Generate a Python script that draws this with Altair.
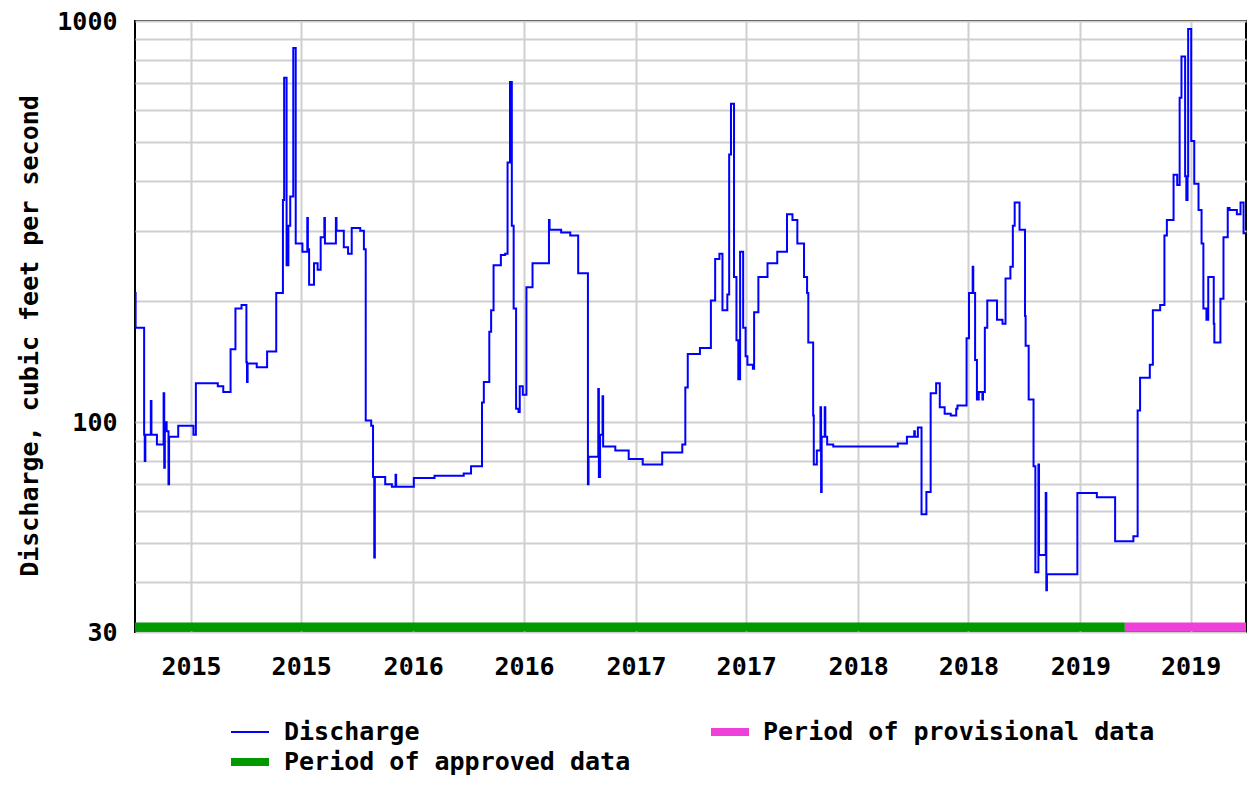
import altair as alt
import pandas as pd

# ---------------- data ----------------
START = "2014-10-01"  # start of water year 2015

# day offsets from START where the daily discharge steps to a new value
wy2015_day = [0, 1, 15, 16, 17, 26, 27, 36, 47, 48, 49, 52, 55, 56, 71, 96, 100, 136, 145, 157,
              165, 175, 183, 184, 185, 200, 217, 232, 243, 245, 249, 252, 255, 260, 264, 275, 283,
              284, 286, 294, 300, 305, 311, 312, 330, 331, 343, 350, 356]
wy2015_cfs = [210, 172, 93, 80, 93, 113, 93, 88, 118, 77, 100, 95, 70, 92, 98, 93, 125, 123, 119, 152,
              192, 196, 141, 126, 140, 137, 150, 210, 358, 722, 246, 309, 365, 857, 279, 266, 323,
              270, 220, 249, 240, 289, 323, 279, 323, 300, 273, 263, 305]

wy2016_day = [370, 376, 379, 388, 391, 393, 394, 411, 422, 428, 429, 458, 492, 540, 552, 570, 573,
              582, 585, 589, 601, 608, 612, 616, 619, 622, 626, 630, 632, 637, 643, 653, 680, 681,
              700, 715]
wy2016_cfs = [300, 270, 101, 98, 73, 46, 73, 70, 69, 74, 69, 72.6, 73.5, 74.5, 77.7, 112, 126,
              168, 190, 246, 261, 263, 444, 705, 309, 192, 108, 106, 123, 117, 217, 249, 319, 302,
              297, 292]

wy2017_day = [728, 744, 745, 761, 762, 764, 768, 769, 789, 811, 834, 866, 899, 904, 908, 928, 946,
              953, 960, 965, 973, 976, 979, 984, 988, 991, 994, 999, 1003, 1006, 1015, 1017, 1024,
              1039, 1055, 1071, 1080, 1088]
wy2017_cfs = [235, 70, 82, 121, 73, 93, 116, 87, 85, 81, 78.5, 84, 88, 122, 148, 153, 201,
              255, 263, 190, 208, 465, 622, 230, 160, 128, 266, 172, 146, 139, 136, 188, 230,
              249, 266, 330, 319, 279]

wy2018_day = [1099, 1104, 1106, 1114, 1115, 1120, 1126, 1127, 1128, 1133, 1134, 1137, 1147, 1253,
              1268, 1280, 1281, 1286, 1292, 1300, 1307, 1316, 1322, 1330, 1340, 1349, 1351, 1366,
              1370, 1376, 1377, 1380, 1383, 1386, 1392, 1393, 1396, 1400, 1416, 1425, 1430, 1438,
              1442, 1445, 1453]
wy2018_cfs = [230, 210, 158, 104, 78.5, 85, 109, 67, 92, 109, 92, 88, 87, 88.5,
              92, 95, 92, 97, 59, 67, 118, 125, 109, 105, 104, 108, 110, 162,
              210, 244, 210, 143, 114, 119, 114, 119, 172, 201, 180, 176, 228, 244,
              309, 353, 302]

wy2019_day = [1462, 1463, 1468, 1476, 1479, 1484, 1485, 1496, 1497, 1498, 1548, 1580, 1610, 1640,
              1647, 1651, 1667, 1672, 1684, 1691, 1695, 1706, 1712, 1716, 1719, 1725, 1727, 1729,
              1730, 1735, 1740, 1747, 1752, 1755, 1760, 1763, 1772, 1773, 1783, 1788, 1795, 1798,
              1810, 1816, 1821, 1825]
wy2019_cfs = [184, 155, 114, 77.7, 42.3, 78.5, 46.7, 66.6, 38.1, 41.8, 66.6, 65, 50.5, 52,
              107, 129, 139, 190, 196, 292, 319, 414, 390, 644, 816, 410, 358, 410,
              955, 502, 393, 338, 279, 192, 180, 230, 176, 158, 203, 289, 342, 338,
              330, 353, 296, 296]

day_offset = wy2015_day + wy2016_day + wy2017_day + wy2018_day + wy2019_day
discharge_cfs = wy2015_cfs + wy2016_cfs + wy2017_cfs + wy2018_cfs + wy2019_cfs

y_grid_values = [30, 40, 50, 60, 70, 80, 90, 100, 200, 300, 400, 500, 600, 700, 800, 900, 1000]
y_label_values = [30, 100, 1000]
x_tick_dates = ["2015-01-01", "2015-07-01", "2016-01-01", "2016-07-01", "2017-01-01",
                "2017-07-01", "2018-01-01", "2018-07-01", "2019-01-01", "2019-07-01"]

period_names = ["Period of approved data", "Period of provisional data"]
period_start = ["2014-10-01", "2019-03-15"]
period_end = ["2019-03-15", "2019-09-30"]
period_colors = ["#009A00", "#F040DA"]

LINE_BLUE = "#0000FF"
FONT = "DejaVu Sans Mono"
FS = 25

# ---------------- tables ----------------
flow = pd.DataFrame({
    "date": pd.Timestamp(START) + pd.to_timedelta(day_offset, unit="D"),
    "discharge": discharge_cfs,
})
periods = pd.DataFrame({
    "period": period_names,
    "start": pd.to_datetime(period_start),
    "end": pd.to_datetime(period_end),
})

x_scale = alt.Scale(domain=[alt.DateTime(year=2014, month=10, date=1),
                            alt.DateTime(year=2019, month=9, date=30)])
y_scale = alt.Scale(type="log", domain=[30, 1000], nice=False)

label_list = ",".join(str(v) for v in y_label_values)

x_axis = alt.Axis(
    values=[alt.DateTime(year=int(d[:4]), month=int(d[5:7]), date=int(d[8:10])) for d in x_tick_dates],
    format="%Y", title=None, ticks=False, domain=False, grid=True,
    labelPadding=34, labelBaseline="middle", labelFlush=False, labelOverlap=False,
)

line = alt.Chart(flow).mark_line(
    interpolate="step-after", color=LINE_BLUE, strokeWidth=2, clip=True
).encode(
    x=alt.X("date:T", scale=x_scale, axis=x_axis),
    y=alt.Y("discharge:Q", scale=y_scale,
            axis=alt.Axis(values=y_grid_values,
                          labelExpr=f"indexof([{label_list}], datum.value) >= 0 ? '' + datum.value : ''",
                          title=None, ticks=False, domain=False, labelPadding=18,
                          labelFlush=False, labelOverlap=False)),
)

bars = alt.Chart(periods).mark_rule(strokeWidth=9, strokeCap="butt").encode(
    x=alt.X("start:T", scale=x_scale, axis=x_axis),
    x2="end:T",
    y=alt.value(606),
    color=alt.Color("period:N", scale=alt.Scale(domain=period_names, range=period_colors),
                    legend=None),
)

one = alt.Data(values=[{"k": 0}])


def lg_rule(x1, x2, y, color, w):
    return alt.Chart(one).mark_rule(color=color, strokeWidth=w).encode(
        x=alt.value(x1), x2=alt.value(x2), y=alt.value(y))


def lg_text(x, y, s, **kw):
    return alt.Chart(one).mark_text(
        align="center" if kw.get("angle") else "left", baseline="middle", font=FONT,
        fontSize=FS, fontWeight="bold", color="#000", **kw
    ).encode(x=alt.value(x), y=alt.value(y), text=alt.value(s))


ytitle = lg_text(-105, 315, "Discharge, cubic feet per second", angle=270)

legend = [
    lg_rule(96, 134, 711, LINE_BLUE, 2),
    lg_text(149, 711, "Discharge"),
    lg_rule(96, 134, 741, period_colors[0], 8),
    lg_text(149, 741, period_names[0]),
    lg_rule(576, 614, 711, period_colors[1], 8),
    lg_text(628, 711, period_names[1]),
]

chart = alt.layer(line, bars, ytitle, *legend).properties(
    width=1111, height=611,
    autosize=alt.AutoSizeParams(type="none"),
    padding={"left": 127, "top": 13, "right": 1, "bottom": 144},
).configure_view(
    stroke="#000", strokeWidth=2
).configure_axis(
    labelFont=FONT, labelFontSize=FS, labelFontWeight="bold", labelColor="#000",
    gridColor="#d0d0d0", gridWidth=2,
)

chart.save("out.html", embed_options={"renderer": "svg", "actions": False})
